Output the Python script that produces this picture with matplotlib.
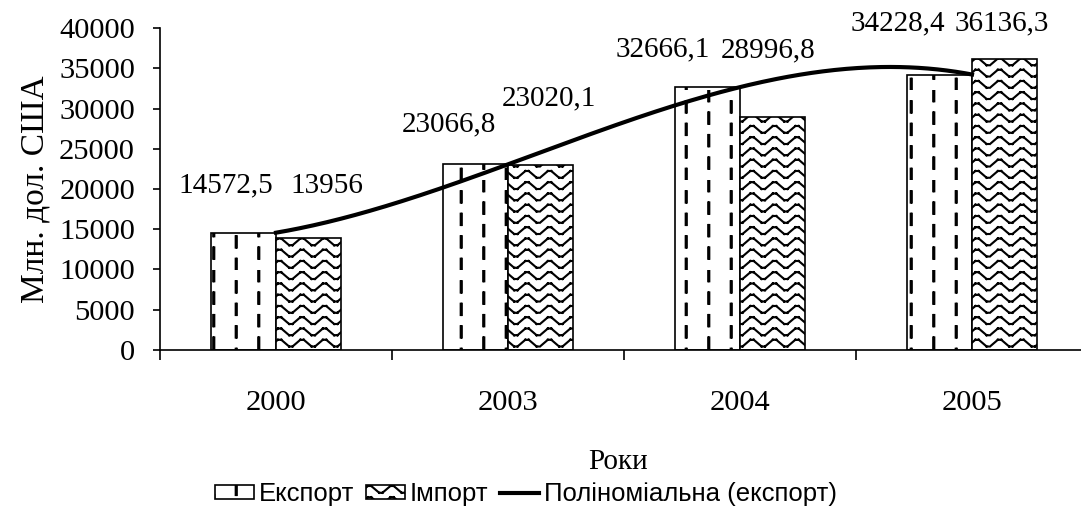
import numpy as np
import matplotlib
matplotlib.use("Agg")
import matplotlib.pyplot as plt
import matplotlib.hatch as mhatch
from matplotlib.path import Path
from matplotlib.lines import Line2D
from matplotlib.patches import Patch

years = ["2000", "2003", "2004", "2005"]
export = [14572.5, 23066.8, 32666.1, 34228.4]
imports = [13956, 23020.1, 28996.8, 36136.3]

# label nudges (points) - labels were dragged around in the original
export_offsets = [(-14.4, 37.8), (-21.1, 32.2), (-35.6, 30), (-33.3, 41.1)]
import_offsets = [(14.4, 41.1), (6.7, 53.3), (-3.3, 53.3), (-2.2, 28.9)]

# Agg tiles hatches in squares of `dpi` pixels, 90 dpi gives the
# ~22 px pattern pitch of the original
DPI = 90


class DashedVertical(mhatch.HatchPatternBase):
    """Staggered vertical dashes, used for '|'."""

    def __init__(self, hatch, density):
        self.cols = 4
        self.rows = 4
        self.num_lines = self.cols * self.rows * 2 if "|" in hatch else 0
        self.num_vertices = self.num_lines * 2

    def set_vertices_and_codes(self, vertices, codes):
        step = 1.0 / self.rows
        segs = []
        for c in range(self.cols):
            x = (c + 0.5) / self.cols
            shift = step / 2 if c % 2 else 0
            for r in range(self.rows):
                y0 = r * step + shift
                # two strokes side by side make the dashes heavier
                for dx in (-0.006, 0.006):
                    segs.append([(x + dx, y0), (x + dx, y0 + step / 2)])
        vertices[:] = np.array(segs).reshape(-1, 2)
        codes[0::2] = Path.MOVETO
        codes[1::2] = Path.LINETO


class Wavy(mhatch.HatchPatternBase):
    """Rows of small zigzag waves, used for '-'.
    Built from separate segments so the Agg hatch fill adds nothing."""

    def __init__(self, hatch, density):
        self.rows = 8
        self.periods = 4
        # per period: rise, flat top, fall, flat bottom
        self.num_lines = self.rows * self.periods * 4 if "-" in hatch else 0
        self.num_vertices = self.num_lines * 2

    def set_vertices_and_codes(self, vertices, codes):
        p = 1.0 / self.periods
        amp = 0.075
        segs = []
        for r in range(self.rows):
            yb = (r + 0.5) / self.rows - amp / 2
            yt = yb + amp
            for k in range(self.periods):
                x0 = k * p
                pts = [(x0, yb), (x0 + 0.35 * p, yt), (x0 + 0.5 * p, yt),
                       (x0 + 0.85 * p, yb), (x0 + p, yb)]
                for a, b in zip(pts[:-1], pts[1:]):
                    segs.append([a, b])
        vertices[:] = np.array(segs).reshape(-1, 2)
        codes[0::2] = Path.MOVETO
        codes[1::2] = Path.LINETO


mhatch._hatch_types = [DashedVertical, Wavy]

plt.rcParams["hatch.linewidth"] = 1.7
plt.rcParams["font.family"] = ["Liberation Serif", "DejaVu Serif"]

fig = plt.figure(figsize=(1081 / DPI, 520 / DPI), dpi=DPI)
ax = fig.add_axes([0.148, 0.327, 0.8585, 0.619])

x = np.arange(len(years))
w = 0.28
ax.bar(x - w / 2, export, w, color="white", edgecolor="black",
       linewidth=1.33, hatch="|", zorder=2)
ax.bar(x + w / 2, imports, w, color="white", edgecolor="black",
       linewidth=1.33, hatch="-", zorder=2)

# polynomial trendline for export (order 3)
coef = np.polyfit(x, export, 3)
xs = np.linspace(0, len(years) - 1, 300)
ax.plot(xs, np.polyval(coef, xs), color="black", lw=3.3, zorder=3)


def fmt(v):
    return f"{v:g}".replace(".", ",")


for xi, v, off in zip(x - w / 2, export, export_offsets):
    ax.annotate(fmt(v), (xi, v), xytext=off, textcoords="offset points",
                ha="center", va="center", fontsize=23.3)
for xi, v, off in zip(x + w / 2, imports, import_offsets):
    ax.annotate(fmt(v), (xi, v), xytext=off, textcoords="offset points",
                ha="center", va="center", fontsize=23.3)

ax.set_xlim(-0.5, 3.5)
ax.set_ylim(0, 40000)
ax.set_yticks(np.arange(0, 40001, 5000))
ax.set_xticks(np.arange(-0.5, 4, 1))
ax.set_xticklabels([])
ax.set_xticks(x, minor=True)
ax.set_xticklabels(years, minor=True)
ax.tick_params(axis="x", which="major", direction="out", length=7.8, width=1.33)
ax.tick_params(axis="x", which="minor", length=0, pad=32.2, labelsize=24.4)
ax.tick_params(axis="y", direction="out", length=5.6, width=1.33, pad=14.4,
               labelsize=24.4)

for side in ["top", "right"]:
    ax.spines[side].set_visible(False)
for side in ["left", "bottom"]:
    ax.spines[side].set_linewidth(1.33)

ax.set_ylabel("Млн. дол. США", fontsize=26.7, labelpad=6.7)
ax.set_xlabel("Роки", fontsize=23.3)
ax.xaxis.set_label_coords(0.4935, -0.307)

handles = [
    Patch(facecolor="white", edgecolor="black", hatch="|", linewidth=1.33),
    Patch(facecolor="white", edgecolor="black", hatch="-", linewidth=1.33),
    Line2D([], [], color="black", lw=3.3),
]
fig.legend(handles, ["Експорт", "Імпорт", "Поліноміальна (експорт)"],
           loc="center", bbox_to_anchor=(0.4866, 0.05), ncol=3, frameon=False,
           prop={"family": "Liberation Sans", "size": 20.6},
           handlelength=1.5, handleheight=0.45, handletextpad=0.2,
           columnspacing=0.45, borderaxespad=0)

fig.savefig("out.png", dpi=DPI)
